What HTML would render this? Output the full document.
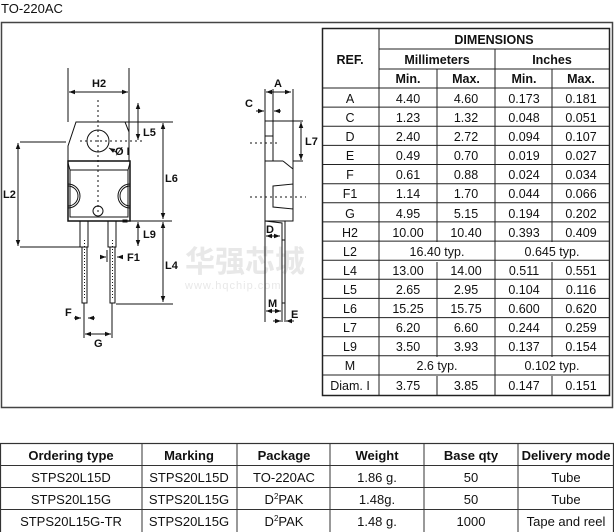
<!DOCTYPE html>
<html><head><meta charset="utf-8"><style>
html,body{margin:0;padding:0;background:#fff;width:614px;height:532px;overflow:hidden}
svg{display:block}
text{font-family:"Liberation Sans",Arial,sans-serif;fill:#111}
.t{font-size:12.5px;text-anchor:middle}
.h{font-size:12.5px;text-anchor:middle;font-weight:bold}
.d{font-size:11px;font-weight:bold}
.o{font-size:13px;text-anchor:middle}
.oh{font-size:13px;text-anchor:middle;font-weight:bold}
</style></head><body>
<svg width="614" height="532" viewBox="0 0 614 532" xmlns="http://www.w3.org/2000/svg">
<defs>
<marker id="ar" viewBox="0 0 8 8" refX="8" refY="4" markerWidth="6" markerHeight="6" orient="auto-start-reverse"><path d="M0,1 L8,4 L0,7 z" fill="#111"/></marker>
</defs>
<text x="1" y="13" style="font-size:13px">TO-220AC</text>
<rect x="1.5" y="22.5" width="611" height="385" fill="none" stroke="#444" stroke-width="1.5"/>

<text x="185" y="272" style="font-size:30px;font-weight:bold;fill:#e8e8e8;font-family:'Liberation Sans','Noto Sans CJK SC',sans-serif">华强芯城</text>
<text x="185" y="289" style="font-size:11px;fill:#e8e8e8;letter-spacing:1px">www.hqchip.com</text>

<g stroke="#111" fill="none" stroke-width="1">
<path d="M68,161 L68,146 L76,122 L125,122 L129,132 L129,161"/>
<line x1="125" y1="122" x2="173" y2="122"/>
<circle cx="98" cy="141" r="11"/>
<line x1="98" y1="100" x2="98" y2="215" stroke-dasharray="2,3"/>
<line x1="80" y1="141" x2="143" y2="141" stroke-dasharray="2,3"/>
<rect x="68" y="161" width="62" height="60" stroke-width="1.5"/>
<rect x="70" y="170" width="58" height="47"/>
<path d="M68,163 L70,170 M130,163 L128,170"/>
<path d="M68,186 A10,10 0 0 1 68,206" />
<path d="M68,184 A12,12 0 0 1 68,208" />
<path d="M130,186 A10,10 0 0 0 130,206"/>
<path d="M130,184 A12,12 0 0 0 130,208"/>
<circle cx="98" cy="211" r="5"/>
<rect x="123" y="220" width="4" height="2" fill="#111"/>
<rect x="80" y="221" width="8" height="26"/>
<rect x="108" y="221" width="8" height="26"/>
<path d="M82,247 L82,303 L87,303 L87,247"/>
<path d="M110,247 L110,303 L115,303 L115,247"/>
<line x1="84.5" y1="240" x2="84.5" y2="300" stroke-dasharray="1,2"/>
<line x1="112.5" y1="240" x2="112.5" y2="300" stroke-dasharray="1,2"/>
<line x1="68" y1="68" x2="68" y2="122"/>
<line x1="129" y1="68" x2="129" y2="132"/>
<line x1="20" y1="142" x2="66" y2="142"/>
<line x1="20" y1="247" x2="84" y2="247"/>
<line x1="130" y1="221" x2="172" y2="221"/>
<line x1="116" y1="304" x2="173" y2="304"/>
<line x1="84" y1="303" x2="84" y2="338"/>
<line x1="112" y1="303" x2="112" y2="338"/>
<line x1="107" y1="250" x2="107" y2="262"/>
<line x1="69" y1="92" x2="128" y2="92" marker-start="url(#ar)" marker-end="url(#ar)"/>
<line x1="138" y1="103" x2="138" y2="140" marker-start="url(#ar)" marker-end="url(#ar)"/>
<line x1="163" y1="123" x2="163" y2="219" marker-start="url(#ar)" marker-end="url(#ar)"/>
<line x1="18" y1="143" x2="18" y2="246" marker-start="url(#ar)" marker-end="url(#ar)"/>
<line x1="138" y1="222" x2="138" y2="246" marker-start="url(#ar)" marker-end="url(#ar)"/>
<line x1="163" y1="222" x2="163" y2="302" marker-start="url(#ar)" marker-end="url(#ar)"/>
<line x1="100" y1="257" x2="106" y2="257" marker-end="url(#ar)"/>
<line x1="123" y1="257" x2="117" y2="257" marker-end="url(#ar)"/>
<line x1="74" y1="318" x2="81" y2="318" marker-end="url(#ar)"/>
<line x1="95" y1="318" x2="88" y2="318" marker-end="url(#ar)"/>
<line x1="85" y1="334" x2="111" y2="334" marker-start="url(#ar)" marker-end="url(#ar)"/>
<line x1="116" y1="152" x2="109" y2="148" marker-end="url(#ar)"/>

<rect x="265" y="121" width="28" height="100"/>
<line x1="273" y1="89" x2="273" y2="161"/>
<line x1="265" y1="89" x2="265" y2="121"/>
<line x1="293" y1="89" x2="293" y2="121"/>
<line x1="265" y1="136" x2="273" y2="136"/>
<line x1="265" y1="161" x2="283" y2="161"/>
<line x1="283" y1="161" x2="293" y2="169"/>
<path d="M273,186 L293,184 L293,209 L273,207 Z"/>
<line x1="250" y1="143" x2="280" y2="143" stroke-dasharray="2,3"/>
<line x1="250" y1="197" x2="306" y2="197" stroke-dasharray="2,3"/>
<path d="M265,221 L282,223 L282,322 M285,221 L285,322"/>
<line x1="282" y1="240" x2="285" y2="240"/>
<line x1="282" y1="303" x2="285" y2="303"/>
<line x1="265" y1="221" x2="265" y2="322"/>
<line x1="293" y1="121" x2="303" y2="121"/>
<line x1="293" y1="161" x2="303" y2="161"/>
<line x1="266" y1="92" x2="291" y2="92" marker-start="url(#ar)" marker-end="url(#ar)"/>
<line x1="256" y1="111" x2="264" y2="111" marker-end="url(#ar)"/>
<line x1="281" y1="111" x2="274" y2="111" marker-end="url(#ar)"/>
<line x1="301" y1="122" x2="301" y2="160" marker-start="url(#ar)" marker-end="url(#ar)"/>
<line x1="266" y1="236" x2="280" y2="236" marker-start="url(#ar)" marker-end="url(#ar)"/>
<line x1="266" y1="311" x2="281" y2="311" marker-start="url(#ar)" marker-end="url(#ar)"/>
<line x1="273" y1="321" x2="281" y2="321" marker-end="url(#ar)"/>
<line x1="294" y1="321" x2="286" y2="321" marker-end="url(#ar)"/>
</g>
<g>
<text x="92" y="87" class="d">H2</text>
<text x="143" y="136" class="d">L5</text>
<text x="115" y="155" class="d">Ø I</text>
<text x="165" y="182" class="d">L6</text>
<text x="3" y="198" class="d">L2</text>
<text x="143" y="238" class="d">L9</text>
<text x="127" y="261" class="d">F1</text>
<text x="165" y="269" class="d">L4</text>
<text x="65" y="316" class="d">F</text>
<text x="94" y="347" class="d">G</text>
<text x="274" y="87" class="d">A</text>
<text x="245" y="107" class="d">C</text>
<text x="305" y="145" class="d">L7</text>
<text x="266" y="233" class="d">D</text>
<text x="268" y="307" class="d">M</text>
<text x="291" y="318" class="d">E</text>
</g>

<g stroke="#222" fill="none">
<rect x="322.5" y="28.5" width="287" height="367" stroke-width="1.5"/>
<line x1="379" y1="28" x2="379" y2="395"/>
<line x1="379" y1="49" x2="609" y2="49"/>
<line x1="379" y1="69" x2="609" y2="69"/>
<line x1="322" y1="88" x2="609" y2="88"/>
<line x1="495" y1="49" x2="495" y2="395"/>
<line x1="437" y1="69" x2="437" y2="242"/>
<line x1="437" y1="262" x2="437" y2="357"/>
<line x1="437" y1="376" x2="437" y2="395"/>
<line x1="552" y1="69" x2="552" y2="242"/>
<line x1="552" y1="262" x2="552" y2="357"/>
<line x1="552" y1="376" x2="552" y2="395"/>
<path d="M322,107.1H609M322,126.3H609M322,145.4H609M322,164.5H609M322,183.7H609M322,202.8H609M322,221.9H609M322,241.1H609M322,260.2H609M322,279.3H609M322,298.4H609M322,317.6H609M322,336.7H609M322,355.8H609M322,375H609"/>
</g>
<text class="h" x="494" y="44">DIMENSIONS</text>
<text class="h" x="350" y="64">REF.</text>
<text class="h" x="437" y="64">Millimeters</text>
<text class="h" x="552" y="64">Inches</text>
<text class="h" x="408" y="83">Min.</text><text class="h" x="466" y="83">Max.</text><text class="h" x="524" y="83">Min.</text><text class="h" x="581" y="83">Max.</text>
<g>
<text class="t" x="350" y="103">A</text><text class="t" x="408" y="103">4.40</text><text class="t" x="466" y="103">4.60</text><text class="t" x="524" y="103">0.173</text><text class="t" x="581" y="103">0.181</text>
<text class="t" x="350" y="122">C</text><text class="t" x="408" y="122">1.23</text><text class="t" x="466" y="122">1.32</text><text class="t" x="524" y="122">0.048</text><text class="t" x="581" y="122">0.051</text>
<text class="t" x="350" y="141">D</text><text class="t" x="408" y="141">2.40</text><text class="t" x="466" y="141">2.72</text><text class="t" x="524" y="141">0.094</text><text class="t" x="581" y="141">0.107</text>
<text class="t" x="350" y="160">E</text><text class="t" x="408" y="160">0.49</text><text class="t" x="466" y="160">0.70</text><text class="t" x="524" y="160">0.019</text><text class="t" x="581" y="160">0.027</text>
<text class="t" x="350" y="179">F</text><text class="t" x="408" y="179">0.61</text><text class="t" x="466" y="179">0.88</text><text class="t" x="524" y="179">0.024</text><text class="t" x="581" y="179">0.034</text>
<text class="t" x="350" y="198">F1</text><text class="t" x="408" y="198">1.14</text><text class="t" x="466" y="198">1.70</text><text class="t" x="524" y="198">0.044</text><text class="t" x="581" y="198">0.066</text>
<text class="t" x="350" y="218">G</text><text class="t" x="408" y="218">4.95</text><text class="t" x="466" y="218">5.15</text><text class="t" x="524" y="218">0.194</text><text class="t" x="581" y="218">0.202</text>
<text class="t" x="350" y="237">H2</text><text class="t" x="408" y="237">10.00</text><text class="t" x="466" y="237">10.40</text><text class="t" x="524" y="237">0.393</text><text class="t" x="581" y="237">0.409</text>
<text class="t" x="350" y="256">L2</text><text class="t" x="437" y="256">16.40 typ.</text><text class="t" x="552" y="256">0.645 typ.</text>
<text class="t" x="350" y="275">L4</text><text class="t" x="408" y="275">13.00</text><text class="t" x="466" y="275">14.00</text><text class="t" x="524" y="275">0.511</text><text class="t" x="581" y="275">0.551</text>
<text class="t" x="350" y="294">L5</text><text class="t" x="408" y="294">2.65</text><text class="t" x="466" y="294">2.95</text><text class="t" x="524" y="294">0.104</text><text class="t" x="581" y="294">0.116</text>
<text class="t" x="350" y="313">L6</text><text class="t" x="408" y="313">15.25</text><text class="t" x="466" y="313">15.75</text><text class="t" x="524" y="313">0.600</text><text class="t" x="581" y="313">0.620</text>
<text class="t" x="350" y="332">L7</text><text class="t" x="408" y="332">6.20</text><text class="t" x="466" y="332">6.60</text><text class="t" x="524" y="332">0.244</text><text class="t" x="581" y="332">0.259</text>
<text class="t" x="350" y="351">L9</text><text class="t" x="408" y="351">3.50</text><text class="t" x="466" y="351">3.93</text><text class="t" x="524" y="351">0.137</text><text class="t" x="581" y="351">0.154</text>
<text class="t" x="350" y="370">M</text><text class="t" x="437" y="370">2.6 typ.</text><text class="t" x="552" y="370">0.102 typ.</text>
<text class="t" x="350" y="390">Diam. I</text><text class="t" x="408" y="390">3.75</text><text class="t" x="466" y="390">3.85</text><text class="t" x="524" y="390">0.147</text><text class="t" x="581" y="390">0.151</text>
</g>

<g stroke="#333" fill="none">
<rect x="0.5" y="443.5" width="613" height="90" stroke-width="1.2"/>
<line x1="0" y1="465.5" x2="614" y2="465.5"/>
<line x1="0" y1="487.5" x2="614" y2="487.5"/>
<line x1="0" y1="509.5" x2="614" y2="509.5"/>
<line x1="142" y1="443" x2="142" y2="532"/>
<line x1="237" y1="443" x2="237" y2="532"/>
<line x1="330" y1="443" x2="330" y2="532"/>
<line x1="424" y1="443" x2="424" y2="532"/>
<line x1="518" y1="443" x2="518" y2="532"/>
</g>
<text class="oh" x="71" y="460">Ordering type</text>
<text class="oh" x="189" y="460">Marking</text>
<text class="oh" x="284" y="460">Package</text>
<text class="oh" x="377" y="460">Weight</text>
<text class="oh" x="471" y="460">Base qty</text>
<text class="oh" x="566" y="460">Delivery mode</text>
<text class="o" x="71" y="482">STPS20L15D</text><text class="o" x="189" y="482">STPS20L15D</text><text class="o" x="284" y="482">TO-220AC</text><text class="o" x="377" y="482">1.86 g.</text><text class="o" x="471" y="482">50</text><text class="o" x="566" y="482">Tube</text>
<text class="o" x="71" y="504">STPS20L15G</text><text class="o" x="189" y="504">STPS20L15G</text><text class="o" x="284" y="504">D<tspan dy="-5" style="font-size:8px">2</tspan><tspan dy="5">PAK</tspan></text><text class="o" x="377" y="504">1.48g.</text><text class="o" x="471" y="504">50</text><text class="o" x="566" y="504">Tube</text>
<text class="o" x="71" y="526">STPS20L15G-TR</text><text class="o" x="189" y="526">STPS20L15G</text><text class="o" x="284" y="526">D<tspan dy="-5" style="font-size:8px">2</tspan><tspan dy="5">PAK</tspan></text><text class="o" x="377" y="526">1.48 g.</text><text class="o" x="471" y="526">1000</text><text class="o" x="566" y="526">Tape and reel</text>
</svg>
</body></html>
